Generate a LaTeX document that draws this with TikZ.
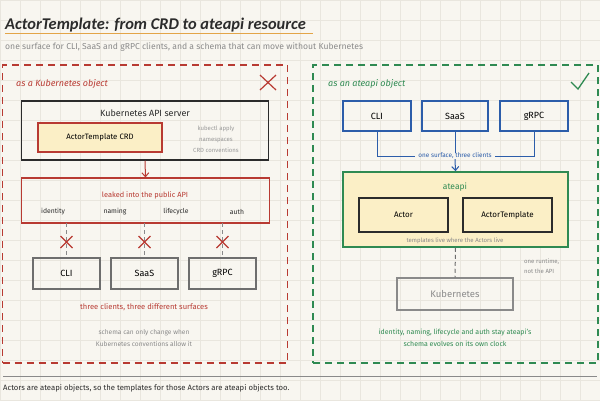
\documentclass[tikz,border=0pt]{standalone}
\usepackage{fontspec}
\setmainfont{Fira Sans}
\newfontfamily\titlefont{Carlito}
\usetikzlibrary{arrows.meta}
\definecolor{bgc}{HTML}{F8F6F0}
\definecolor{gridc}{HTML}{E9E6DE}
\definecolor{redc}{HTML}{B83A32}
\definecolor{greenc}{HTML}{2F8A52}
\definecolor{bluec}{HTML}{2C5DAA}
\definecolor{yellowc}{HTML}{FBEFC6}
\definecolor{orangec}{HTML}{E3A548}
\definecolor{inkc}{HTML}{2B2B2B}
\definecolor{grayc}{HTML}{8A8A8A}
\definecolor{lgrayc}{HTML}{9A9A9A}
\newcommand{\fs}[1]{\fontsize{#1}{#1}\selectfont}
\tikzset{
  gridline/.style={draw=gridc, line width=0.5pt},
  panel/.style={rectangle, line width=1.3pt, dash pattern=on 7pt off 5pt, inner sep=0, minimum width=285, minimum height=298},
  box/.style={rectangle, draw, inner sep=0, line width=1.1pt},
  txt/.style={inner sep=0, text=inkc},
  conn/.style={line width=1pt},
  dconn/.style={line width=1pt, dash pattern=on 4pt off 3pt},
}
\begin{document}
\begin{tikzpicture}[x=1pt,y=-1pt]
\useasboundingbox (0,0) rectangle (600,400);
\fill[bgc] (0,0) rectangle (600,400);
\foreach \x in {0,20,...,600} \draw[gridline] (\x,0) -- (\x,400);
\foreach \y in {0,20,...,400} \draw[gridline] (0,\y) -- (600,\y);

% title
\node[txt, anchor=base west, font={\titlefont\fontsize{16.4}{16}\selectfont\itshape\bfseries}] (title) at (5,29) {ActorTemplate: from CRD to ateapi resource};
\draw[orangec, line width=1.5pt] (5,33.5) -- (313,33.5);
\node[txt, anchor=west, text=grayc, font=\fs{8.6}] (sub) at (5,47) {one surface for CLI, SaaS and gRPC clients, and a schema that can move without Kubernetes};

% left panel
\node[panel, draw=redc] (lp) at (145,214) {};
\node[txt, anchor=west, text=redc, font={\fs{9}\itshape}] (lpl) at (16,84) {as a Kubernetes object};
\draw[redc, line width=1.2pt] (260,75) -- (276,90) (276,75) -- (260,90);

\node[box, draw=inkc, line width=1.5pt, minimum width=247, minimum height=59] (api) at (145,130.5) {};
\node[txt, font=\fs{9}] (apil) at (145,113) {Kubernetes API server};
\node[box, draw=redc, fill=yellowc, minimum width=124, minimum height=29, font=\fs{7.8}] (crd) at (100,137.5) {ActorTemplate CRD};
\node[txt, text=lgrayc, align=center, font={\fontsize{6}{11}\selectfont}] (kub) at (216,139) {kubectl apply\\namespaces\\CRD conventions};

\node[box, draw=redc, minimum width=248, minimum height=45] (leak) at (145.5,200.5) {};
\draw[redc, conn, -{Straight Barb[length=4pt,width=7pt]}] (api.south) -- (leak.north);
\node[txt, text=redc, font=\fs{7.4}] (leakl) at (145,195) {leaked into the public API};
\node[txt, font=\fs{6.8}] (idn) at (53,212) {identity};
\node[txt, font=\fs{6.8}] (nam) at (115,212) {naming};
\node[txt, font=\fs{6.8}] (lif) at (176,212) {lifecycle};
\node[txt, font=\fs{6.8}] (aut) at (237,212) {auth};

\node[box, draw=grayc!80!black, minimum width=67, minimum height=31, font=\fs{9}] (cli1) at (66.5,273.5) {CLI};
\node[box, draw=grayc!80!black, minimum width=67, minimum height=31, font=\fs{9}] (saas1) at (144.5,273.5) {SaaS};
\node[box, draw=grayc!80!black, minimum width=67, minimum height=31, font=\fs{9}] (grpc1) at (222.5,273.5) {gRPC};
\foreach \n/\x in {cli1/66.5,saas1/144.5,grpc1/222.5}{
  \coordinate (t\n) at (\x,223);
  \draw[grayc, dconn] (t\n) -- (\n.north);
  \draw[redc, line width=1.1pt] (\x-6,236) -- (\x+6,248) (\x+6,236) -- (\x-6,248);
}
\node[txt, text=redc, font=\fs{7.6}] (three) at (144,307) {three clients, three different surfaces};
\node[txt, text=grayc, align=center, font={\fontsize{6.6}{12}\selectfont}] (sch) at (144,338) {schema can only change when\\Kubernetes conventions allow it};

% right panel
\node[panel, draw=greenc] (rp) at (455.5,214) {};
\node[txt, anchor=west, text=greenc, font={\fs{9}\itshape}] (rpl) at (328,84) {as an ateapi object};
\draw[greenc, line width=1.3pt] (571,82) -- (578,89) -- (589,73);

\node[box, draw=bluec, minimum width=68, minimum height=30, font=\fs{9}] (cli2) at (377,116) {CLI};
\node[box, draw=bluec, minimum width=66, minimum height=30, font=\fs{9}] (saas2) at (455,116) {SaaS};
\node[box, draw=bluec, minimum width=68, minimum height=30, font=\fs{9}] (grpc2) at (534,116) {gRPC};
\node[txt, text=bluec, inner xsep=3pt, font=\fs{6.4}] (surf) at (455,156) {one surface, three clients};
\draw[bluec, conn] (cli2.south) |- (surf.west);
\draw[bluec, conn] (grpc2.south) |- (surf.east);
\draw[bluec, conn] (saas2.south) -- (surf.north);

\node[box, draw=greenc, fill=yellowc, line width=1.5pt, minimum width=225, minimum height=75] (ate) at (455.5,209.5) {};
\draw[bluec, conn, -{Straight Barb[length=4pt,width=7pt]}] (surf.south) -- (ate.north);
\node[txt, text=greenc, font=\fs{8.5}] (atel) at (455,187) {ateapi};
\node[box, draw=inkc, line width=1.3pt, fill=yellowc, minimum width=89, minimum height=34, font=\fs{8}] (actor) at (403.5,215) {Actor};
\node[box, draw=inkc, line width=1.3pt, fill=yellowc, minimum width=89, minimum height=34, font=\fs{8}] (atpl) at (507.5,215) {ActorTemplate};
\node[txt, text=grayc, font=\fs{6}] (live) at (455,241) {templates live where the Actors live};

\node[box, draw=grayc, minimum width=116, minimum height=32, text=grayc, font=\fs{9.5}] (k8s) at (455,294) {Kubernetes};
\draw[grayc!80!black, dconn] (ate.south) -- (k8s.north);
\node[txt, text=grayc, anchor=north west, align=left, font={\fontsize{6}{10}\selectfont}] (rt) at (524,259) {one runtime,\\not the API};
\node[txt, text=greenc, align=center, font={\fontsize{7}{12}\selectfont}] (idg) at (455,338) {identity, naming, lifecycle and auth stay ateapi's\\schema evolves on its own clock};

% footer
\draw[grayc, line width=0.8pt] (3,376) -- (597,376);
\node[txt, anchor=west, font=\fs{7.7}] (foot) at (3,388) {Actors are ateapi objects, so the templates for those Actors are ateapi objects too.};
\end{tikzpicture}
\end{document}
